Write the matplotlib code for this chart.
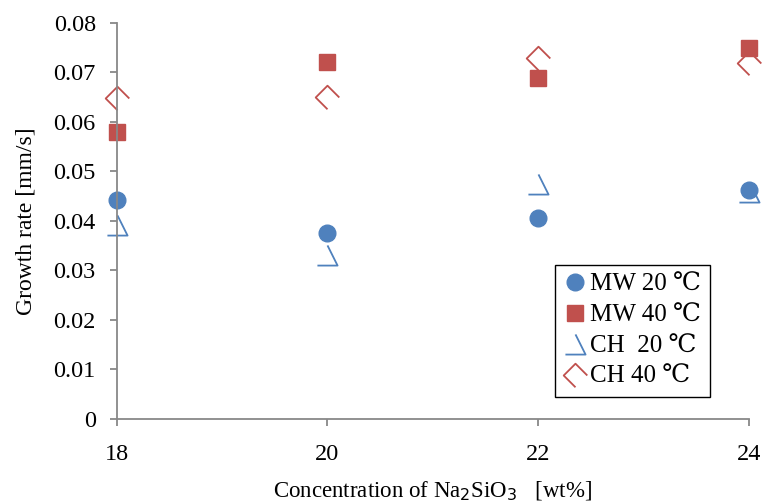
import matplotlib.pyplot as plt
from matplotlib.path import Path

plt.rcParams['font.family'] = ['Liberation Serif', 'DejaVu Serif']

# data
conc = [18, 20, 22, 24]
mw_20 = [0.0442, 0.0375, 0.0405, 0.0463]
mw_40 = [0.0580, 0.0720, 0.0688, 0.0748]
ch_20 = [0.0392, 0.0331, 0.0475, 0.0458]
ch_40 = [0.0648, 0.0650, 0.0729, 0.0719]
labels = ["MW 20 ℃", "MW 40 ℃", "CH  20 ℃", "CH 40 ℃"]

blue = "#4f81bd"
red = "#c0504d"

# open markers with one edge missing (as in the original)
tri = Path([(0, 0.5), (0.5, -0.5), (-0.5, -0.5)],
           [Path.MOVETO, Path.LINETO, Path.LINETO])
dia = Path([(0.5, 0), (0, 0.5), (-0.5, 0), (0, -0.5)],
           [Path.MOVETO, Path.LINETO, Path.LINETO, Path.LINETO])

fig = plt.figure(figsize=(7.62, 5.03), dpi=100)
ax = fig.add_axes([0.153, 0.167, 0.8296, 0.788])

ax.plot(conc, mw_20, ls="none", marker="o", ms=12, color=blue, mec=blue, label=labels[0], clip_on=False)
ax.plot(conc, mw_40, ls="none", marker="s", ms=12, color=red, mec=red, label=labels[1], clip_on=False)
ax.plot(conc, ch_20, ls="none", marker=tri, ms=14.5, mfc="none", mec=blue, mew=1.3, label=labels[2], clip_on=False)
ax.plot(conc, ch_40, ls="none", marker=dia, ms=17, mfc="none", mec=red, mew=1.3, label=labels[3], clip_on=False)

ax.set_xlim(18, 24)
ax.set_ylim(0, 0.08)
ax.set_xticks([18, 20, 22, 24])
ax.set_yticks([i * 0.01 for i in range(9)])
ax.set_yticklabels(["0"] + ["%.2f" % (i * 0.01) for i in range(1, 9)])

for s in ["top", "right"]:
    ax.spines[s].set_visible(False)
for s in ["left", "bottom"]:
    ax.spines[s].set_color("#888888")
    ax.spines[s].set_linewidth(1.3)
ax.tick_params(axis="both", colors="#888888", labelcolor="black", labelsize=17.5, length=5, width=1.3)
ax.tick_params(axis="y", pad=10)
ax.tick_params(axis="x", pad=13)

ax.set_xlabel("Concentration of Na$_2$SiO$_3$   [wt%]", fontsize=16.5, labelpad=10)
ax.set_ylabel("Growth rate [mm/s]", fontsize=17, labelpad=12)

leg = ax.legend(loc="lower right", bbox_to_anchor=(0.939, 0.0555), borderaxespad=0,
                fontsize=18, fancybox=False, framealpha=1, edgecolor="black",
                handlelength=0.9, handletextpad=0.15, labelspacing=0.33, borderpad=0.35)
leg.get_frame().set_linewidth(1.0)

fig.savefig("out.png", dpi=100)
